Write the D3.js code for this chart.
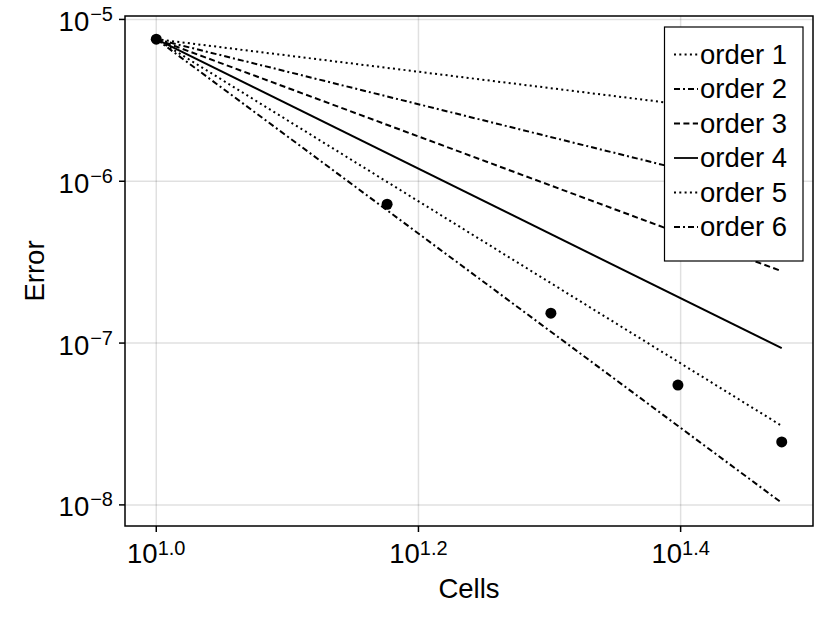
<!DOCTYPE html>
<html>
<head>
<meta charset="utf-8">
<script src="https://cdn.jsdelivr.net/npm/d3@7"></script>
<style>
  body { margin: 0; background: #fff; }
  svg { display: block; font-family: "Liberation Sans", Arial, sans-serif; }
</style>
</head>
<body>
<svg id="chart" width="830" height="623"></svg>
<script>
// measured convergence data
const cells = [10, 15, 20, 25, 30];
const errors = [7.55e-6, 7.21e-7, 1.53e-7, 5.5e-8, 2.45e-8];

// reference slopes: all start at the first point, end values read at cells = 30
const orders = [1, 2, 3, 4, 5, 6];
const refLabels = ["order 1", "order 2", "order 3", "order 4", "order 5", "order 6"];
const refEnd = [2.5e-6, 8.3e-7, 2.78e-7, 9.3e-8, 3.08e-8, 1.03e-8];
const refDash = ["2,3.3", "6,3,2,3", "6,3.4", null, "2,3.3", "6,3,2,3"];

const xTicks = [1.0, 1.2, 1.4];        // exponents of 10
const yTicks = [-8, -7, -6, -5];

const svg = d3.select("#chart");
const pL = 125, pR = 813, pT = 16, pB = 526;
const fs = 27.5, fsSup = 20;

// log-space limits with 5% margin (like the original plot)
function padded(lo, hi) {
    const a = Math.log10(lo), b = Math.log10(hi), p = (b - a) * 0.05;
    return [Math.pow(10, a - p), Math.pow(10, b + p)];
}
const allY = errors.concat(refEnd);
const x = d3.scaleLog().domain(padded(d3.min(cells), d3.max(cells))).range([pL, pR]);
const y = d3.scaleLog().domain(padded(d3.min(allY), d3.max(allY))).range([pB, pT]);

// grid
svg.append("g").selectAll("line").data(xTicks).join("line")
    .attr("x1", d => x(Math.pow(10, d))).attr("x2", d => x(Math.pow(10, d)))
    .attr("y1", pT).attr("y2", pB)
    .attr("stroke", "rgba(0,0,0,0.12)").attr("stroke-width", 1.5);
svg.append("g").selectAll("line").data(yTicks).join("line")
    .attr("y1", d => y(Math.pow(10, d))).attr("y2", d => y(Math.pow(10, d)))
    .attr("x1", pL).attr("x2", pR)
    .attr("stroke", "rgba(0,0,0,0.12)").attr("stroke-width", 1.5);

// reference lines
const line = d3.line().x(d => x(d[0])).y(d => y(d[1]));
svg.append("g").selectAll("path").data(orders).join("path")
    .attr("d", (d, i) => line([[cells[0], errors[0]], [cells[cells.length - 1], refEnd[i]]]))
    .attr("fill", "none")
    .attr("stroke", "black")
    .attr("stroke-width", 2)
    .attr("stroke-dasharray", (d, i) => refDash[i]);

// data points
svg.append("g").selectAll("circle").data(cells).join("circle")
    .attr("cx", d => x(d))
    .attr("cy", (d, i) => y(errors[i]))
    .attr("r", 5.5)
    .attr("fill", "black");

// frame
svg.append("rect")
    .attr("x", pL).attr("y", pT)
    .attr("width", pR - pL).attr("height", pB - pT)
    .attr("fill", "none").attr("stroke", "black").attr("stroke-width", 1.5);

// ticks + labels
const xt = svg.append("g").selectAll("g").data(xTicks).join("g")
    .attr("transform", d => `translate(${x(Math.pow(10, d))},0)`);
xt.append("line").attr("y1", pB).attr("y2", pB + 6).attr("stroke", "black").attr("stroke-width", 1.5);
const xl = xt.append("text").attr("y", 563).attr("text-anchor", "middle").attr("font-size", fs);
xl.append("tspan").text("10");
xl.append("tspan").attr("dy", -8).attr("font-size", fsSup).text(d => d.toFixed(1));

const yt = svg.append("g").selectAll("g").data(yTicks).join("g")
    .attr("transform", d => `translate(0,${y(Math.pow(10, d))})`);
yt.append("line").attr("x1", pL).attr("x2", pL - 6).attr("stroke", "black").attr("stroke-width", 1.5);
const yl = yt.append("text").attr("x", 113).attr("y", 11.5).attr("text-anchor", "end").attr("font-size", fs);
yl.append("tspan").text("10");
yl.append("tspan").attr("dx", 1).attr("dy", -10).attr("font-size", fsSup).text(d => "\u2212" + Math.abs(d));

// axis titles
svg.append("text")
    .attr("x", (pL + pR) / 2).attr("y", 598)
    .attr("text-anchor", "middle").attr("font-size", fs)
    .text("Cells");
svg.append("text")
    .attr("transform", `translate(44,${(pT + pB) / 2}) rotate(-90)`)
    .attr("text-anchor", "middle").attr("font-size", fs)
    .text("Error");

// legend
const lg = svg.append("g");
lg.append("rect")
    .attr("x", 664.5).attr("y", 27).attr("width", 138.5).attr("height", 234)
    .attr("fill", "white").attr("stroke", "black").attr("stroke-width", 1.2);
const rows = lg.selectAll("g").data(refLabels).join("g")
    .attr("transform", (d, i) => `translate(0,${63.5 + i * 34.5})`);
rows.append("line")
    .attr("x1", 674).attr("x2", 698).attr("y1", -9).attr("y2", -9)
    .attr("stroke", "black").attr("stroke-width", 1.8)
    .attr("stroke-dasharray", (d, i) => refDash[i]);
rows.append("text")
    .attr("x", 700).attr("font-size", fs)
    .text(d => d);
</script>
</body>
</html>
